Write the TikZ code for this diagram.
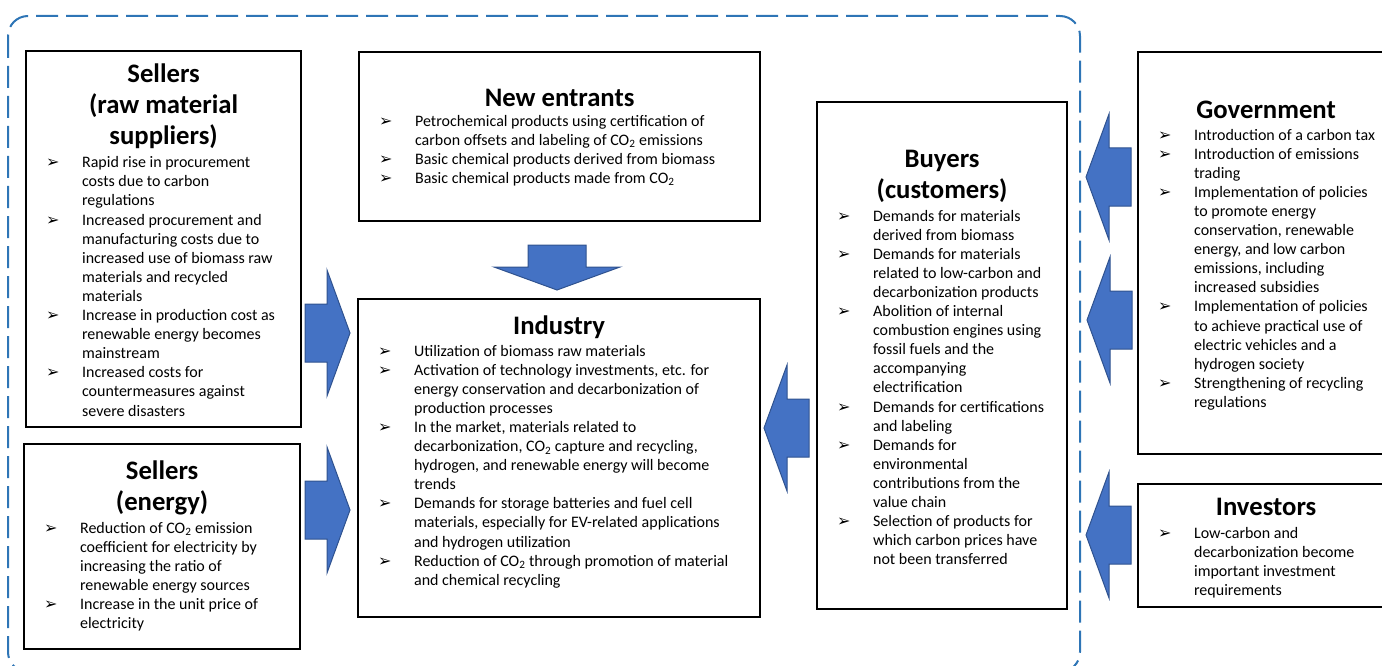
\documentclass[tikz,border=0pt]{standalone}
\usepackage{fontspec}
\setmainfont{Carlito}
\newfontfamily\symfnt{DejaVu Sans}

\definecolor{arrowblue}{HTML}{4472C4}
\definecolor{arrowedge}{HTML}{2F528F}
\definecolor{frameblue}{HTML}{2E75B6}

\newcommand{\ttlfont}{\fontsize{26.7}{31}\selectfont\bfseries}
\newcommand{\bul}{{\symfnt\fontsize{16}{16}\selectfont ➢}}
\newcommand{\cotwo}{CO\textsubscript{2}}
% one bullet point, hanging indent, explicit line breaks with \\
\newcommand{\itm}[1]{\par\hangindent=56pt\hangafter=1\noindent\strut\makebox[56pt][l]{\hspace{20pt}\bul}#1\par}
% width, height, top space, title, gap, items
\newcommand{\panelbox}[6]{%
  \begin{minipage}[t][#2pt][t]{#1pt}
  \parskip=0pt\parindent=0pt\rightskip=0pt plus 1fil\hbadness=10000
  \vspace*{#3pt}
  {\centering\ttlfont\strut#4\strut\par}
  \vspace{#5pt}
  \fontsize{16}{19.1}\selectfont
  #6
  \end{minipage}}

\tikzset{
  panel/.style={draw=black, line width=2.2pt, inner sep=0pt, anchor=north west},
  frame/.style={draw=frameblue, line width=2pt, dash pattern=on 22pt off 8pt, rounded corners=20pt},
  blockarrow/.pic={
    \filldraw[fill=arrowblue, draw=arrowedge, line width=1pt]
      (-45,-29) -- (-23,-29) -- (-23,-63) -- (0,0) -- (-23,63) -- (-23,29) -- (-45,29) -- cycle;
  }
}

\begin{document}
\begin{tikzpicture}[x=1pt, y=-1pt]

\useasboundingbox (0,0) rectangle (1382,666);
\clip (0,0) rectangle (1382,666);

\draw[frame] (8,16) rectangle (1080,672);

% left side
\node[panel] (raw) at (25,50) {\panelbox{275}{376}{10}{Sellers\\(raw material\\suppliers)}{-0.7}{%
  \itm{Rapid rise in procurement\\costs due to carbon\\regulations}
  \itm{Increased procurement and\\manufacturing costs due to\\increased use of biomass raw\\materials and recycled\\materials}
  \itm{Increase in production cost as\\renewable energy becomes\\mainstream}
  \itm{Increased costs for\\countermeasures against\\severe disasters}}};

\node[panel] (energy) at (23,443) {\panelbox{276}{205}{13.3}{Sellers\\(energy)}{-0.7}{%
  \itm{Reduction of \cotwo{} emission\\coefficient for electricity by\\increasing the ratio of\\renewable energy sources}
  \itm{Increase in the unit price of\\electricity}}};

% middle
\node[panel] (entrants) at (358,51) {\panelbox{401}{169}{32.3}{New entrants}{-3.7}{%
  \itm{Petrochemical products using certification of\\carbon offsets and labeling of \cotwo{} emissions}
  \itm{Basic chemical products derived from biomass}
  \itm{Basic chemical products made from \cotwo}}};

\node[panel] (industry) at (357,298) {\panelbox{402}{318}{13.3}{Industry}{-1.7}{%
  \itm{Utilization of biomass raw materials}
  \itm{Activation of technology investments, etc. for\\energy conservation and decarbonization of\\production processes}
  \itm{In the market, materials related to\\decarbonization, \cotwo{} capture and recycling,\\hydrogen, and renewable energy will become\\trends}
  \itm{Demands for storage batteries and fuel cell\\materials, especially for EV-related applications\\and hydrogen utilization}
  \itm{Reduction of \cotwo{} through promotion of material\\and chemical recycling}}};

\node[panel] (buyers) at (816,101) {\panelbox{250}{507}{43.3}{Buyers\\(customers)}{-0.7}{%
  \itm{Demands for materials\\derived from biomass}
  \itm{Demands for materials\\related to low-carbon and\\decarbonization products}
  \itm{Abolition of internal\\combustion engines using\\fossil fuels and the\\accompanying\\electrification}
  \itm{Demands for certifications\\and labeling}
  \itm{Demands for\\environmental\\contributions from the\\value chain}
  \itm{Selection of products for\\which carbon prices have\\not been transferred}}};

% right side, outside the frame
\node[panel] (government) at (1137,51) {\panelbox{256}{402}{44.3}{Government}{-1.7}{%
  \itm{Introduction of a carbon tax}
  \itm{Introduction of emissions\\trading}
  \itm{Implementation of policies\\to promote energy\\conservation, renewable\\energy, and low carbon\\emissions, including\\increased subsidies}
  \itm{Implementation of policies\\to achieve practical use of\\electric vehicles and a\\hydrogen society}
  \itm{Strengthening of recycling\\regulations}}};

\node[panel] (investors) at (1137,483) {\panelbox{256}{123}{9.3}{Investors}{-0.7}{%
  \itm{Low-carbon and\\decarbonization become\\important investment\\requirements}}};

% block arrows
\pic at (350,333) {blockarrow};
\pic at (350,510) {blockarrow};
\pic[rotate=-90] at (557,290) {blockarrow};
\pic[rotate=180] at (764,428) {blockarrow};
\pic[rotate=180] at (1086,177) {blockarrow};
\pic[rotate=180] at (1087,320) {blockarrow};
\pic[rotate=180] at (1086,535) {blockarrow};

\end{tikzpicture}
\end{document}
